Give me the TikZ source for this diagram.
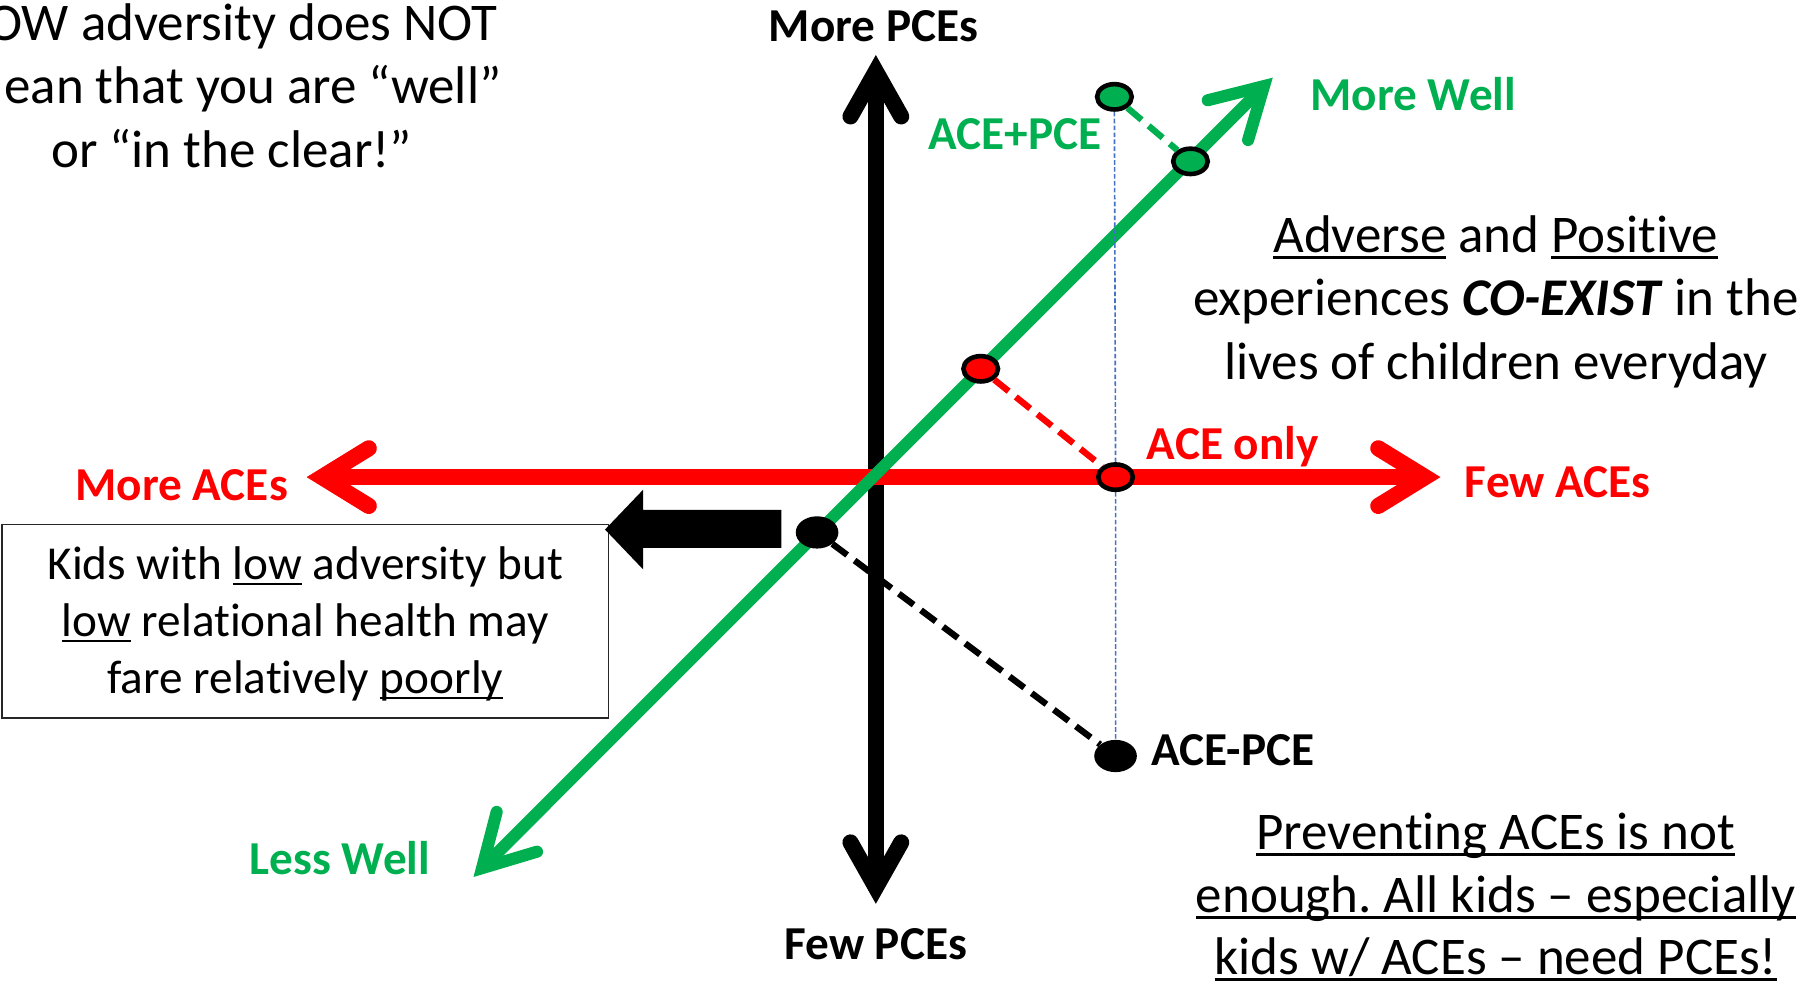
\documentclass[tikz,border=0pt]{standalone}
\usepackage{fontspec}
\setmainfont{Carlito}[Ligatures={TeX,NoCommon}]
\usetikzlibrary{shapes.geometric}

\definecolor{wellgreen}{HTML}{00B050}
\definecolor{acered}{HTML}{FF0000}
\definecolor{guideblue}{HTML}{4472C4}

% underline at a fixed depth below the baseline, crossing descenders
\newcommand{\ulin}[1]{\setbox0=\hbox{#1}\rlap{\rule[-0.12em]{\wd0}{0.055em}}\box0\relax}

\begin{document}
\frenchspacing
\begin{tikzpicture}[x=1pt,y=-1pt,
  lbl/.style={inner sep=0pt, font=\fontsize{41}{49.5}\selectfont\bfseries},
  bodytxt/.style={inner sep=0pt, font=\fontsize{46}{55}\selectfont},
  boxtxt/.style={inner sep=0pt, font=\fontsize{41}{49.5}\selectfont},
  blackaxis/.style={line width=14pt, black},
  redaxis/.style={line width=14pt, acered},
  greenaxis/.style={line width=10.5pt, wellgreen},
  openhead/.style={line cap=round, line join=miter, miter limit=10},
  pt/.style={ellipse, draw=black, line width=4pt, inner sep=0pt,
             minimum width=30pt, minimum height=22pt},
  dot/.style={ellipse, fill=black, inner sep=0pt,
             minimum width=37pt, minimum height=28pt},
  link/.style={line width=5.5pt, dash pattern=on 16pt off 8pt},
]
\useasboundingbox (0,0) rectangle (1568,855);

% axis end points
\coordinate (pceHi) at (760,62);
\coordinate (pceLo) at (760,770);
\coordinate (aceHi) at (279.4,414);
\coordinate (aceLo) at (1236.6,414);
\coordinate (wellHi) at (1096.8,74.7);
\coordinate (wellLo) at (418.3,753.3);

% vertical PCE axis
\draw[blackaxis] (pceHi) -- (pceLo);
\draw[blackaxis, openhead] (738,101) -- (pceHi) -- (782,101);
\draw[blackaxis, openhead] (738,731) -- (pceLo) -- (782,731);

% horizontal ACE axis
\draw[redaxis] (aceHi) -- (aceLo);
\draw[redaxis, openhead] (320,389) -- (aceHi) -- (320,439);
\draw[redaxis, openhead] (1196,389) -- (aceLo) -- (1196,439);

% diagonal well-being axis
\draw[greenaxis] (wellLo) -- (wellHi);
\draw[greenaxis, openhead] (1048,87) -- (wellHi) -- (1083,121.5);
\draw[greenaxis, openhead] (431,704.5) -- (wellLo) -- (466,739);

% points
\node[pt, fill=wellgreen] (acepce) at (967,84) {};
\node[pt, fill=wellgreen] (acepceW) at (1033,140) {};
\node[pt, fill=acered] (aceonlyW) at (851,320) {};
\node[pt, fill=acered] (aceonly) at (968,414) {};
\node[dot] (lowW) at (709,462) {};
\node[dot] (acenopce) at (968,656) {};

% guide line through the three ACE levels
\draw[guideblue, line width=1.4pt, dash pattern=on 4pt off 2pt]
  (acepce.south) -- (aceonly.north) (aceonly.south) -- (acenopce.north);

% projections onto the well-being axis
\draw[link, wellgreen] (acepce) -- (acepceW);
\draw[link, acered] (aceonlyW) -- (aceonly);
\draw[link, black] (lowW) -- (acenopce);

% axis labels
\node[lbl, anchor=base] (morepce) at (758,36) {More PCEs};
\node[lbl, anchor=base] (fewpce) at (760,833) {Few PCEs};
\node[lbl, anchor=base west, text=wellgreen] (morewell) at (1137,96) {More Well};
\node[lbl, anchor=base, text=wellgreen] (lesswell) at (295,759) {Less Well};
\node[lbl, anchor=base east, text=acered] (moreace) at (250,434) {More ACEs};
\node[lbl, anchor=base west, text=acered] (fewace) at (1271,432) {Few ACEs};

% point labels
\node[lbl, anchor=base east, text=wellgreen] (acepcelbl) at (956,130) {ACE+PCE};
\node[lbl, anchor=base west, text=acered] (aceonlylbl) at (995,399) {ACE only};
\node[lbl, anchor=base west] (acenopcelbl) at (999,664) {ACE-PCE};

% callout box with block arrow
\node[draw=black!85, line width=1.5pt, minimum width=526pt, minimum height=168pt,
      inner sep=0pt] (callout) at (265,539) {};
\fill[black] (678,442.5) -- (558,442.5) -- (558,425) -- (525,459.5)
  -- (558,494) -- (558,475.5) -- (678,475.5) -- cycle;
\node[boxtxt, anchor=base] (call1) at (265,503) {Kids with \ulin{low} adversity but};
\node[boxtxt, anchor=base] (call2) at (265,552.5) {\ulin{low} relational health may};
\node[boxtxt, anchor=base] (call3) at (265,602) {fare relatively \ulin{poorly}};

% top-left note
\node[bodytxt, anchor=base] (note1) at (201,35) {LOW adversity does NOT};
\node[bodytxt, anchor=base] (note2) at (201,90) {mean that you are “well”};
\node[bodytxt, anchor=base] (note3) at (201,145) {or “in the clear!”};

% right note
\node[bodytxt, anchor=base] (coex1) at (1298,219) {\ulin{Adverse} and \ulin{Positive}};
\node[bodytxt, anchor=base] (coex2) at (1298,274) {experiences \textbf{\textit{CO-EXIST}} in the};
\node[bodytxt, anchor=base] (coex3) at (1298,329) {lives of children everyday};

% bottom-right note
\node[bodytxt, anchor=base] (prev1) at (1298,737) {\ulin{Preventing ACEs is not}};
\node[bodytxt, anchor=base] (prev2) at (1298,792) {\ulin{enough. All kids – especially}};
\node[bodytxt, anchor=base] (prev3) at (1298,846) {\ulin{kids w/ ACEs – need PCEs!}};
\end{tikzpicture}
\end{document}
